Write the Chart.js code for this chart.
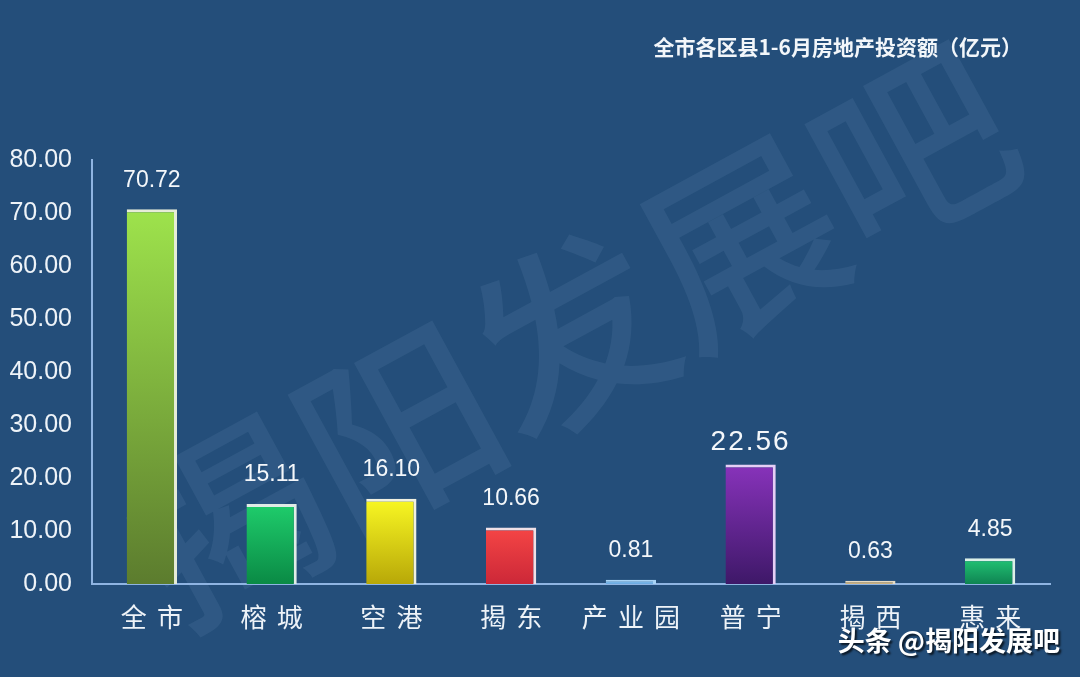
<!DOCTYPE html>
<html><head><meta charset="utf-8">
<script src="https://cdn.jsdelivr.net/npm/chart.js@4.4.1/dist/chart.umd.min.js"></script>
<style>html,body{margin:0;padding:0;background:#244e7a;}canvas{display:block;}</style>
</head><body>
<canvas id="c" width="1080" height="677"></canvas>
<script>
const categories = ['全市','榕城','空港','揭东','产业园','普宁','揭西','惠来'];
const values = [70.72, 15.11, 16.10, 10.66, 0.81, 22.56, 0.63, 4.85];
const yTicks = [0,10,20,30,40,50,60,70,80];
const title = '全市各区县1-6月房地产投资额（亿元）';
const topColors = ['#9ee34c','#1fcd6c','#f9f823','#f54545','#8ccaf4','#8833bb','#dcc598','#22c575'];
const bottomColors = ['#5c7c2e','#0a8a45','#b8a808','#cc2838','#6aa8e0','#3e1868','#c9ad7a','#0f8452'];
const borderColors = ['#e6ecd8','#e0ece6','#f0f0e0','#f0e0e6','#a9d4f6','#e6cef6','#e8dcc4','#dcf0e8'];

const bg = {
  id:'bg',
  beforeDraw(chart){
    const ctx = chart.ctx;
    ctx.save();
    ctx.fillStyle = '#244e7a';
    ctx.fillRect(0,0,chart.width,chart.height);
    ctx.translate(570, 335);
    ctx.rotate(-28.6*Math.PI/180);
    ctx.fillStyle = 'rgba(170,200,235,0.09)';
    ctx.font = '500 195px "Noto Sans CJK SC"';
    ctx.textAlign = 'center';
    ctx.textBaseline = 'middle';
    ctx.fillText('揭阳发展吧', 0, 0);
    ctx.restore();
    ctx.save();
    ctx.fillStyle = '#f2f6fa';
    ctx.font = 'bold 21px "Noto Sans CJK SC"';
    ctx.textAlign = 'right';
    ctx.textBaseline = 'middle';
    ctx.fillText(title, 1022, 47);
    ctx.restore();
  },
  afterDraw(chart){
    const ctx = chart.ctx;
    const x = chart.scales.x;
    ctx.save();
    ctx.fillStyle = '#eef3f8';
    ctx.font = '26px "Noto Sans CJK SC"';
    ctx.letterSpacing = '10px';
    ctx.textAlign = 'center';
    ctx.textBaseline = 'middle';
    categories.forEach((c,i)=>{
      ctx.fillText(c, x.getPixelForValue(i)+5, 617);
    });
    ctx.restore();
    const meta = chart.getDatasetMeta(0);
    ctx.save();
    ctx.fillStyle = '#f4f7fa';
    ctx.textAlign = 'center';
    ctx.textBaseline = 'middle';
    meta.data.forEach((bar,i)=>{
      const big = values[i] === Math.max(...values.slice(1));
      ctx.font = big ? '28px "Liberation Sans"' : '23px "Liberation Sans"';
      ctx.letterSpacing = big ? '2px' : '0px';
      ctx.fillText(values[i].toFixed(2), bar.x, bar.y - (big ? 22 : 29));
    });
    ctx.restore();
    ctx.save();
    ctx.font = 'bold 27px "Noto Sans CJK SC"';
    ctx.textAlign = 'right';
    ctx.textBaseline = 'middle';
    ctx.shadowColor = 'rgba(0,0,0,0.7)';
    ctx.shadowOffsetX = 2; ctx.shadowOffsetY = 2; ctx.shadowBlur = 2;
    ctx.fillStyle = '#ffffff';
    ctx.fillText('头条 @揭阳发展吧', 1060, 641);
    ctx.restore();
  }
};

new Chart(document.getElementById('c'), {
  type:'bar',
  data:{
    labels: categories,
    datasets:[{
      data: values,
      backgroundColor(ctx){
        const chart = ctx.chart, area = chart.chartArea;
        if(!area || !chart.scales.y) return topColors[ctx.dataIndex];
        const top = chart.scales.y.getPixelForValue(values[ctx.dataIndex]);
        const g = chart.ctx.createLinearGradient(0, top, 0, area.bottom);
        g.addColorStop(0, topColors[ctx.dataIndex]);
        g.addColorStop(1, bottomColors[ctx.dataIndex]);
        return g;
      },
      borderColor: borderColors,
      borderWidth:{top:3,right:3,left:0,bottom:0},
      borderSkipped:false,
      barPercentage:0.84,
      categoryPercentage:0.5
    }]
  },
  options:{
    responsive:false,
    animation:false,
    devicePixelRatio:1,
    layout:{padding:{top:160,right:30,left:0,bottom:0}},
    plugins:{legend:{display:false},tooltip:{enabled:false},title:{display:false}},
    scales:{
      x:{
        grid:{display:false,drawTicks:false},
        border:{display:true,color:'#8fb4e2',width:2},
        ticks:{display:false},
        afterFit(a){ a.height = 93; }
      },
      y:{
        min:0,max:80,
        afterBuildTicks(a){ a.ticks = yTicks.map(v=>({value:v})); },
        grid:{display:false,drawTicks:false},
        border:{display:true,color:'#8fb4e2',width:2},
        ticks:{color:'#eef3f8',font:{family:'Liberation Sans',size:25},padding:20,
          callback:v=>Number(v).toFixed(2)},
        afterFit(a){ a.width = 92; }
      }
    }
  },
  plugins:[bg]
});
</script>
</body></html>
